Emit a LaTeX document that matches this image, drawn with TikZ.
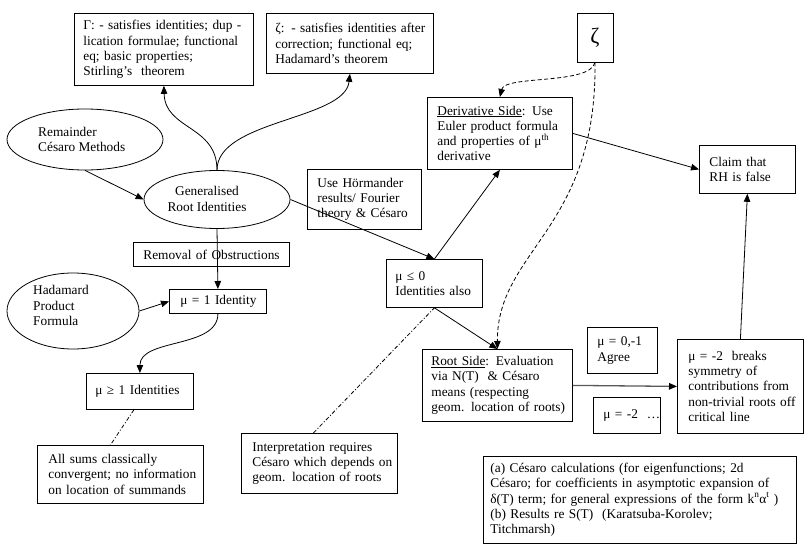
\documentclass[tikz,border=0pt]{standalone}
\usepackage{fontspec}
\setmainfont{Liberation Serif}
\usetikzlibrary{arrows.meta,shapes.geometric,calc}
\begin{document}
\begin{tikzpicture}[x=1pt,y=-1pt,
  txt/.style={font=\fontsize{13.33}{15.3}\selectfont},
  box/.style={draw, line width=0.8pt, rectangle, anchor=north west, align=left, inner ysep=0pt, txt},
  ell/.style={draw, ellipse, line width=0.8pt, inner sep=0pt},
  arr/.style={line width=0.8pt, -{Triangle[length=8pt,width=6.5pt]}},
  dashc/.style={arr, dash pattern=on 4pt off 2.5pt},
  dashdot/.style={line width=0.8pt, dash pattern=on 4pt off 2pt on 1pt off 2pt}]
\useasboundingbox (0,0) rectangle (808,556);

% boxes
\node[box, inner xsep=9pt, text width=161pt, minimum height=72pt] (gam) at (74,13)
 {\mbox{Γ: - satisfies identities;\ dup -}\\\mbox{lication formulae; functional}\\\mbox{eq; basic properties;}\\\mbox{Stirling’s\ \ theorem}};
\node[box, inner xsep=9pt, text width=149pt, minimum height=60pt] (zet) at (266,13)
 {\mbox{ζ: - satisfies identities after}\\\mbox{correction; functional eq;}\\\mbox{Hadamard’s theorem}};
\node[draw, line width=0.8pt, minimum width=36pt, minimum height=49pt, inner sep=0pt,
  font=\fontsize{22}{22}\selectfont] (zsm) at (595,37.5) {ζ};
\node[box, inner xsep=10pt, text width=125pt, minimum height=72pt] (der) at (427,97)
 {\mbox{\underline{Derivative Side}: Use}\\\mbox{Euler product formula}\\\mbox{and properties of μ\textsuperscript{th}}\\\mbox{derivative}};
\node[box, inner xsep=10pt, text width=76pt, minimum height=48pt] (claim) at (699,145)
 {\mbox{Claim that}\\\mbox{RH is\ false}};
\node[box, inner xsep=10pt, text width=136pt, minimum height=24pt] (remov) at (133,242)
 {\mbox{Removal of Obstructions}};
\node[box, inner xsep=11pt, text width=75pt, minimum height=24pt] (mu1) at (169,289)
 {\mbox{μ = 1 Identity}};
\node[box, inner xsep=9pt, text width=89pt, minimum height=36pt] (muge) at (86,373)
 {\mbox{μ ≥ 1 Identities}};
\node[box, inner xsep=11pt, text width=144pt, minimum height=58pt] (all) at (37,445)
 {\mbox{All sums classically}\\\mbox{convergent; no information}\\\mbox{on location of summands}};
\node[box, inner xsep=10pt, text width=94pt, minimum height=60pt] (hor) at (307,169)
 {\mbox{Use Hörmander}\\\mbox{results/ Fourier}\\\mbox{theory \& Césaro}};
\node[box, inner xsep=9pt, text width=78pt, minimum height=48pt] (mule0) at (386,259)
 {\mbox{μ ≤ 0}\\\mbox{Identities also}};
\node[box, inner xsep=9pt, text width=132pt, minimum height=72pt] (root) at (422,349)
 {\mbox{\underline{Root Side}: Evaluation}\\\mbox{via N(T)\ \ \& Césaro}\\\mbox{means (respecting}\\\mbox{geom. location of roots)}};
\node[box, inner xsep=10pt, text width=50pt, minimum height=46pt] (agree) at (587,327)
 {\mbox{μ = 0,-1}\\\mbox{Agree}};
\node[box, inner xsep=10pt, text width=47pt, minimum height=36pt] (mum2) at (593,397)
 {\mbox{μ = -2\ \ …}};
\node[box, inner xsep=11pt, text width=104pt, minimum height=94pt] (breaks) at (677,339)
 {\mbox{μ = -2\ \ breaks}\\\mbox{symmetry of}\\\mbox{contributions from}\\\mbox{non-trivial roots off}\\\mbox{critical line}};
\node[box, inner xsep=11pt, text width=134pt, minimum height=60pt] (interp) at (241,433)
 {\mbox{Interpretation requires}\\\mbox{Césaro which depends on}\\\mbox{geom. location of roots}};
\node[box, inner xsep=7pt, text width=299pt, minimum height=87pt] (bot) at (483,456)
 {\mbox{(a) Césaro calculations (for eigenfunctions; 2d}\\\mbox{Césaro; for coefficients in asymptotic expansion of}\\\mbox{δ(T) term; for general expressions of the form k\textsuperscript{n}α\textsuperscript{t} )}\\\mbox{(b) Results re S(T)\ \ (Karatsuba-Korolev;}\\\mbox{Titchmarsh)}};

% ellipses
\node[ell, minimum width=156pt, minimum height=61pt] (remainder) at (85,139.5) {};
\node[txt, anchor=west, align=left, inner sep=0pt] (remaindertxt) at (38,139.5) {Remainder\\Césaro Methods};
\node[ell, minimum width=146pt, minimum height=58pt] (gen) at (217,199.5) {};
\node[txt, align=center, inner sep=0pt] (gentxt) at (207,199) {Generalised\\Root Identities};
\node[ell, minimum width=132pt, minimum height=76pt] (had) at (73,311) {};
\node[txt, anchor=west, align=left, inner sep=0pt] (hadtxt) at (33,305.5) {Hadamard\\Product\\Formula};

% connectors
\draw[arr] (gen.north) .. controls (217,125) and (165,130) .. (gam.south);
\draw[arr] (gen.north) .. controls (217,120) and (345,120) .. (zet.south);
\draw[arr] (remainder.south) -- (gen.west);
\draw[arr] (gen.east) -- (mule0.north);
\draw[arr] (gen.south) -- (mu1.north);
\draw[arr] (had.east) -- (mu1.west);
\draw[arr] (mu1.south) .. controls +(0,35) and +(0,-35) .. (muge.north);
\draw[dashdot] ($(muge.south)+(-6,0)$) -- ($(all.north)+(-10,0)$);
\draw[arr] (mule0.north) -- (der.south);
\draw[arr] (mule0.south) -- (root.north);
\draw[dashdot] ($(interp.north)+(-6,0)$) -- (mule0.south);
\draw[dashc] (zsm.south) .. controls (590,85) and (505,75) .. (der.north);
\draw[dashc] (zsm.south) .. controls (597,230) and (497,250) .. (root.north);
\draw[arr] (der.east) -- (claim.west);
\draw[arr] (breaks.north) -- (claim.south);
\draw[draw=black!65, line width=1.3pt, -{Triangle[length=8pt,width=6.5pt,color=black]}] (root.east) -- (breaks.west);
\end{tikzpicture}
\end{document}
